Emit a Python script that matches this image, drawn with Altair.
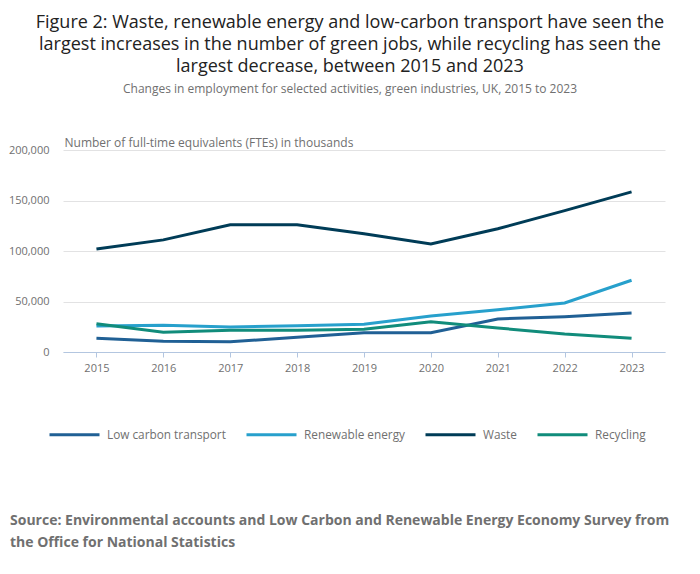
import altair as alt
import pandas as pd

years = ["2015", "2016", "2017", "2018", "2019", "2020", "2021", "2022", "2023"]
series_names = ["Low carbon transport", "Renewable energy", "Waste", "Recycling"]
series_colors = ["#206095", "#27a0cc", "#003c57", "#118c7b"]
low_carbon = [13500, 10600, 10200, 14500, 19000, 19000, 32700, 35000, 38600]
renewable = [25700, 26400, 24700, 26000, 27400, 35600, 41900, 48500, 71000]
waste = [102000, 111000, 126000, 126000, 117000, 107000, 122000, 140000, 158500]
recycling = [28000, 19500, 21500, 21500, 22500, 30000, 23800, 17800, 13500]
y_ticks = [0, 50000, 100000, 150000, 200000]

title_lines = [
    "Figure 2: Waste, renewable energy and low-carbon transport have seen the",
    "largest increases in the number of green jobs, while recycling has seen the",
    "largest decrease, between 2015 and 2023",
]
subtitle = "Changes in employment for selected activities, green industries, UK, 2015 to 2023"
source_text = "Source: Environmental accounts and Low Carbon and Renewable Energy Economy Survey from\nthe Office for National Statistics"

rows = []
for name, vals in zip(series_names, [low_carbon, renewable, waste, recycling]):
    for yr, v in zip(years, vals):
        rows.append({"year": yr, "series": name, "value": v})
df = pd.DataFrame(rows)

FONT = "Open Sans"

lines = alt.Chart(df).mark_line(strokeWidth=3).encode(
    x=alt.X("year:O", scale=alt.Scale(type="point", padding=0.5),
            axis=alt.Axis(title=None, labelAngle=0, tickSize=5, tickColor="#b3c6e0",
                          domainColor="#b3c6e0", labelColor="#707070", labelFontSize=11,
                          labelPadding=5, grid=False, labelFont=FONT)),
    y=alt.Y("value:Q", scale=alt.Scale(domain=[0, 200000]),
            axis=alt.Axis(values=y_ticks, format=",.0f", ticks=False, domain=False,
                          gridColor="#e2e2e3", labelColor="#707070", labelFontSize=11,
                          labelPadding=14, labelFont=FONT,
                          title="Number of full-time equivalents (FTEs) in thousands",
                          titleAngle=0, titleAlign="left", titleBaseline="bottom",
                          titleX=1, titleY=-1, titleFontSize=12, titleFontWeight="normal",
                          titleColor="#707070", titleFont=FONT)),
    color=alt.Color("series:N", sort=series_names,
                    scale=alt.Scale(domain=series_names, range=series_colors),
                    legend=alt.Legend(title=None, orient="none", legendX=-15, legendY=258,
                                      direction="horizontal", columns=4,
                                      symbolType="stroke", symbolSize=2500,
                                      symbolStrokeWidth=3, labelFontSize=11.8,
                                      labelColor="#707070", labelFont=FONT,
                                      columnPadding=14, labelOffset=6)),
)

src = alt.Chart(pd.DataFrame({"t": [source_text]})).mark_text(
    align="left", baseline="middle", fontSize=14, fontWeight="bold",
    color="#707070", font=FONT, lineBreak="\n", lineHeight=22,
).encode(x=alt.value(-53), y=alt.value(371), text="t:N")

chart = alt.layer(lines, src).properties(
    width=602, height=202,
    autosize=alt.AutoSizeParams(type="none"),
    padding={"left": 55, "top": 142, "right": 27, "bottom": 214},
    title=alt.TitleParams(text=title_lines, subtitle=subtitle, anchor="middle", dx=-14,
                          fontSize=18, fontWeight="normal", color="#222222", font=FONT,
                          lineHeight=22, subtitleFontSize=12, subtitleColor="#707070",
                          subtitleFont=FONT, subtitlePadding=8, offset=41),
).configure_view(stroke=None)

chart.save("out.html", embed_options={"renderer": "svg", "actions": False})
